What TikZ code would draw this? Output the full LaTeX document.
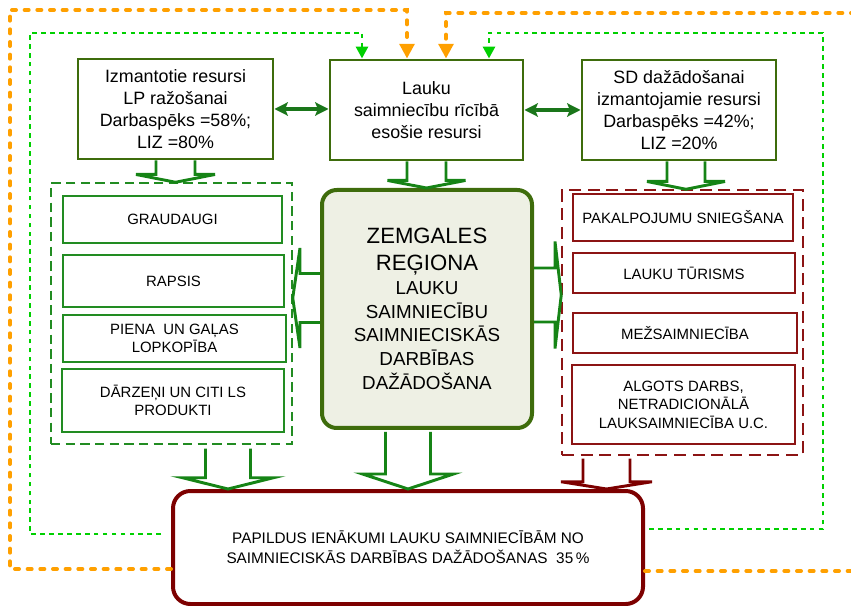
\documentclass[tikz,border=0pt]{standalone}
\usepackage{fontspec}
\setmainfont{Liberation Sans}
\usetikzlibrary{arrows.meta,calc}
\definecolor{boxolive}{RGB}{62,108,12}
\definecolor{arrgreen}{RGB}{22,132,22}
\definecolor{itemgreen}{RGB}{34,140,34}
\definecolor{dblgreen}{RGB}{26,118,26}
\definecolor{dred}{RGB}{125,0,0}
\definecolor{ired}{RGB}{140,20,20}
\definecolor{oline}{RGB}{255,160,0}
\definecolor{gline}{RGB}{0,208,0}
\definecolor{cfill}{RGB}{238,240,228}
\newcommand\arrdown[6]{\draw[#1] ($(#2)+(-#3,0)$) -- ++(0,#4) -- ++(-#5,0) -- (#2 |- #6) -- ($(#2)+({#3+#5},#4)$) -- ++(-#5,0) -- ($(#2)+(#3,0)$);}
\newcommand\arrside[6]{\draw[#1] ($(#2)+(0,-#3)$) -- ++({0-(#4)},0) -- ++(0,-#5) -- (#2 -| #6) -- ($(#2)+({0-(#4)},{#3+#5})$) -- ++(0,-#5) -- ($(#2)+(0,#3)$);}
\newcommand\bigc[1]{{\fontsize{16.6}{17.8}\selectfont #1}}
\tikzset{
  boxsz/.style 2 args={minimum width={#1*0.75pt},minimum height={#2*0.75pt}},
  topbox/.style={draw=boxolive,line width=2.2pt,align=center,inner sep=0pt,
    font=\fontsize{13.4}{16.5}\selectfont},
  cbox/.style={draw=boxolive,line width=3pt,fill=cfill,rounded corners=11pt,align=center,
    inner sep=0pt,font=\fontsize{14.1}{17.8}\selectfont},
  botbox/.style={draw=dred,line width=3pt,rounded corners=13pt,align=center,inner sep=0pt,
    font=\fontsize{11.5}{15}\selectfont},
  lcont/.style={draw=itemgreen,line width=1.1pt,dash pattern=on 7pt off 4pt,inner sep=0pt},
  rcont/.style={draw=ired,line width=1.1pt,dash pattern=on 9pt off 5pt,inner sep=0pt},
  gitem/.style={draw=itemgreen,line width=1.3pt,align=center,inner sep=0pt,
    font=\fontsize{11.2}{13.8}\selectfont},
  ritem/.style={draw=ired,line width=1.3pt,align=center,inner sep=0pt,
    font=\fontsize{11.2}{13.8}\selectfont},
  garr/.style={draw=arrgreen,line width=2.2pt,line join=miter},
  rarr/.style={draw=dred,line width=2.2pt,line join=miter},
  dbl/.style={draw=dblgreen,line width=2.4pt,{Stealth[length=10pt,width=10pt,inset=2pt]}-{Stealth[length=10pt,width=10pt,inset=2pt]}},
  oarr/.style={draw=oline,line width=3pt,line cap=round,dash pattern=on 3pt off 6.5pt,
    -{Triangle[length=11pt,width=11pt]}},
  gdot/.style={draw=gline,line width=2.2pt,dash pattern=on 3.5pt off 3.2pt,
    -{Triangle[length=9pt,width=9pt]}}
}
\begin{document}
\begin{tikzpicture}[x=0.75pt,y=-0.75pt]
\useasboundingbox (0,0) rectangle (851,606);
\clip (0,0) rectangle (851,606);

% top boxes
\node[topbox,boxsz={195}{100}] (lt) at (175.5,109) {Izmantotie resursi\\LP ražošanai\\Darbaspēks =58\%;\\LIZ =80\%};
\node[topbox,boxsz={193}{100}] (mid) at (426.5,110) {Lauku\\saimniecību rīcībā\\esošie resursi};
\node[topbox,boxsz={194}{100}] (rt) at (679,110) {SD dažādošanai\\izmantojamie resursi\\Darbaspēks =42\%;\\LIZ =20\%};

% containers
\node[lcont,boxsz={241}{261}] (lc) at (171.5,313.5) {};
\node[rcont,boxsz={241}{265}] (rc) at (682.5,322.5) {};

% left items
\node[gitem,boxsz={219}{47}] (g1) at (172.5,219.5) {GRAUDAUGI};
\node[gitem,boxsz={221}{52}] (g2) at (173.5,281) {RAPSIS};
\node[gitem,boxsz={223}{47}] (g3) at (174.5,338.5) {PIENA\ \ UN GAĻAS\\LOPKOPĪBA};
\node[gitem,boxsz={222}{63}] (g4) at (173,400.5) {DĀRZEŅI UN CITI LS\\PRODUKTI};

% right items
\node[ritem,boxsz={220}{47}] (r1) at (683,217.5) {PAKALPOJUMU SNIEGŠANA};
\node[ritem,boxsz={222}{40}] (r2) at (684,273) {LAUKU TŪRISMS};
\node[ritem,boxsz={224}{40}] (r3) at (685,333) {MEŽSAIMNIECĪBA};
\node[ritem,boxsz={223}{79}] (r4) at (683.5,404.5) {ALGOTS DARBS,\\NETRADICIONĀLĀ\\LAUKSAIMNIECĪBA U.C.};

% centre box
\node[cbox,boxsz={210}{238}] (cb) at (427,309) {\bigc{ZEMGALES}\\[2.2pt]\bigc{REĢIONA}\\LAUKU\\SAIMNIECĪBU\\SAIMNIECISKĀS\\DARBĪBAS\\DAŽĀDOŠANA};

% bottom box
\node[botbox,boxsz={470}{113}] (bot) at (408,547.5) {PAPILDUS IENĀKUMI LAUKU SAIMNIECĪBĀM NO\\SAIMNIECISKĀS DARBĪBAS DAŽĀDOŠANAS\ \ 35\,\%};

% double arrows
\draw[dbl] (lt.east) -- (lt.east -| mid.west);
\draw[dbl] (mid.east) -- (rt.west);

% block arrows (down)
\coordinate (a1) at (lt.south);
\coordinate (a2) at (mid.south);
\coordinate (a3) at ($(rt.south)+(7,0)$);
\coordinate (a4) at ($(lc.south)+(56.5,4)$);
\coordinate (a5) at ($(cb.south)+(-19,2)$);
\coordinate (a6) at ($(rc.south)+(-76,3)$);
\arrdown{garr}{a1}{19.5}{14}{20}{lc.north}
\arrdown{garr}{a2}{19.5}{19}{19.5}{cb.north}
\arrdown{garr}{a3}{19}{20}{20}{rc.north}
\arrdown{garr}{a4}{22.5}{29}{23}{bot.north}
\arrdown{garr}{a5}{22.5}{42}{23}{bot.north}
\arrdown{rarr}{a6}{23.5}{23}{22}{bot.north}

% side block arrows
\coordinate (s1) at ($(cb.west)+(0,-11)$);
\coordinate (s2) at ($(cb.east)+(0,-14)$);
\arrside{garr}{s1}{24.5}{20}{25.5}{lc.east}
\arrside{garr}{s2}{27}{-21}{26.5}{rc.west}

% feedback lines
\coordinate (oL) at ($(bot.west)+(0,21.5)$);
\coordinate (oR) at ($(bot.east)+(0,23.5)$);
\coordinate (gL) at ($(bot.west)+(-10,-13.5)$);
\coordinate (gR) at ($(bot.east)+(4,-18.5)$);
\coordinate (oLc) at (10,10);
\coordinate (oRc) at (870,13);
\coordinate (gLc) at (30,33);
\coordinate (gRc) at (823,33);
\draw[oarr] (oL) -| (oLc) -| ($(mid.north)+(-19.5,0)$);
\draw[oarr] (oR) -| (oRc) -| ($(mid.north)+(19.5,0)$);
\draw[gdot] (gL) -| (gLc) -| ($(mid.north)+(-64.5,0)$);
\draw[gdot] (gR) -| (gRc) -| ($(mid.north)+(62.5,0)$);
\end{tikzpicture}
\end{document}
